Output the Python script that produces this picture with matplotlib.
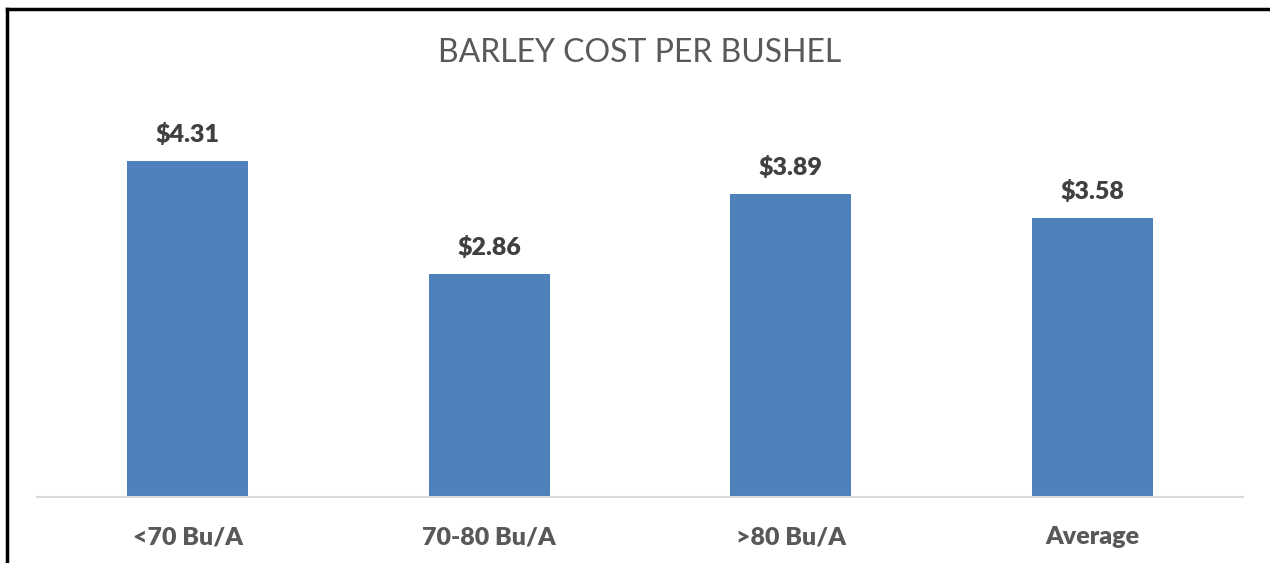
import matplotlib
matplotlib.use("Agg")
import matplotlib.pyplot as plt
from matplotlib.lines import Line2D

categories = ["<70 Bu/A", "70-80 Bu/A", ">80 Bu/A", "Average"]
values = [4.31, 2.86, 3.89, 3.58]
title = "BARLEY COST PER BUSHEL"

plt.rcParams['font.family'] = ['Lato', 'DejaVu Sans']

fig = plt.figure(figsize=(12.7, 5.63), dpi=100)
ax = fig.add_axes([37/1270, 66/563, 1206/1270, 390/563])

x = list(range(len(categories)))
bars = ax.bar(x, values, width=0.4, color="#4F81BD", zorder=2)
ax.set_xlim(-0.5, len(categories) - 0.5)
ax.set_ylim(0, 5)

for xi, v in zip(x, values):
    ax.annotate(f"${v:.2f}", (xi, v), xytext=(0, 10.5), textcoords="offset points",
                ha="center", va="bottom", fontsize=18, fontweight="heavy", color="#404040")

ax.set_xticks(x)
ax.set_xticklabels(categories, fontsize=18, fontweight="heavy", color="#595959")
ax.tick_params(axis="x", length=0, pad=21)
ax.set_yticks([])
for s in ["top", "right", "left"]:
    ax.spines[s].set_visible(False)
ax.spines["bottom"].set_color("#D9D9D9")
ax.spines["bottom"].set_linewidth(1.5)

fig.text(640/1270, 1 - 53/563, title, ha="center", va="center", fontsize=23, color="#595959")

# outer frame (top and left edges visible)
fig.add_artist(Line2D([6.5/1270, 1.0], [1 - 8.5/563, 1 - 8.5/563], color="black", linewidth=2.5, transform=fig.transFigure))
fig.add_artist(Line2D([6.5/1270, 6.5/1270], [0, 1 - 8.5/563], color="black", linewidth=2.5, transform=fig.transFigure))

fig.savefig("out.png", dpi=100, facecolor="white")
